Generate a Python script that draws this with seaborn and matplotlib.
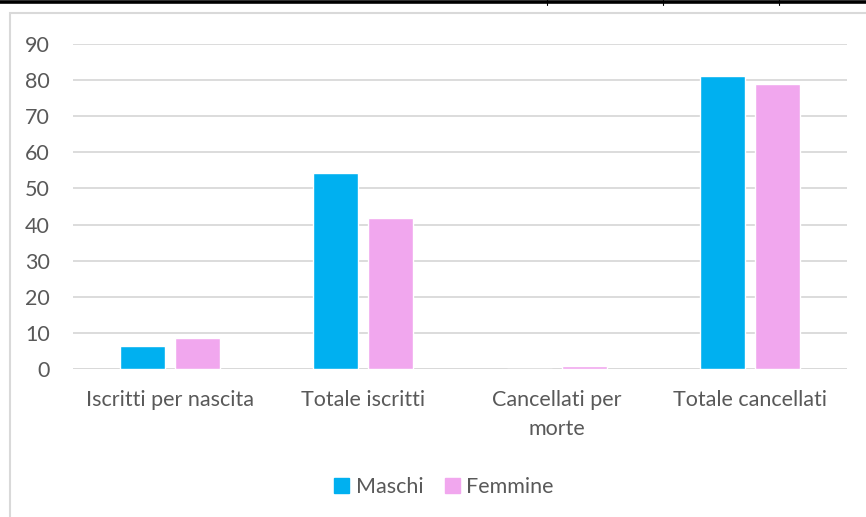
import numpy as np
import pandas as pd
import seaborn as sns
import matplotlib.pyplot as plt
from matplotlib.patches import Rectangle
from matplotlib.lines import Line2D

categories = ['Iscritti per nascita', 'Totale iscritti', 'Cancellati per\nmorte', 'Totale cancellati']
maschi = [6.4, 54.4, 0.0, 81.1]
femmine = [8.6, 41.7, 0.7, 78.9]
series = ['Maschi', 'Femmine']
yticks = [0, 10, 20, 30, 40, 50, 60, 70, 80, 90]

df = pd.DataFrame({
    'categoria': categories * 2,
    'valore': maschi + femmine,
    'sesso': ['Maschi'] * 4 + ['Femmine'] * 4,
})

sns.set_theme(style='white')
plt.rcParams['font.family'] = ['Lato', 'DejaVu Sans']
txt = '#595959'
fs = 15.5

W, H = 866, 517
fig = plt.figure(figsize=(W / 100, H / 100), dpi=100)
ax = fig.add_axes([73 / W, (H - 369) / H, (847 - 73) / W, (369 - 44) / H])

sns.barplot(data=df, x='categoria', y='valore', hue='sesso', hue_order=series,
            palette=['#00B0F0', '#F1A7EE'], width=0.568, gap=0.18,
            saturation=1, ax=ax, legend=True)

ax.set_ylim(0, 90)
ax.set_yticks(yticks)
ax.set_xlim(-0.5, 3.5)
ax.yaxis.grid(True, color='#D9D9D9', linewidth=1.3)
ax.set_axisbelow(True)
for s in ax.spines.values():
    s.set_visible(False)
ax.axhline(0, color='#D9D9D9', linewidth=1.3, zorder=0)
ax.set_xlabel('')
ax.set_ylabel('')
ax.tick_params(axis='y', colors=txt, labelsize=fs, length=0, pad=16.5)
ax.tick_params(axis='x', colors=txt, labelsize=fs, length=0, pad=15)
for lab in ax.get_xticklabels():
    lab.set_linespacing(1.55)
    lab.set_verticalalignment('top')

ax.legend_.remove()
handles = [Rectangle((0, 0), 1, 1, color=c) for c in ['#00B0F0', '#F1A7EE']]
fig.legend(handles, series, loc='center', bbox_to_anchor=(444 / W, (H - 487) / H),
           ncol=2, frameon=False, fontsize=fs, labelcolor=txt,
           handlelength=0.7, handleheight=0.7, handletextpad=0.3, columnspacing=1.0)

# chart area border and the page line above it
fig.add_artist(Rectangle((10 / W, -0.1), 1.0, (H - 13) / H + 0.1, transform=fig.transFigure,
                         fill=False, edgecolor='#D9D9D9', linewidth=1.5))
fig.add_artist(Line2D([0, 1], [(H - 1.5) / H] * 2, transform=fig.transFigure,
                      color='black', linewidth=2.6))
for x in [547, 663, 779]:
    fig.add_artist(Line2D([x / W] * 2, [1, (H - 5) / H], transform=fig.transFigure,
                          color='black', linewidth=0.8))

fig.savefig('out.png', dpi=100)
